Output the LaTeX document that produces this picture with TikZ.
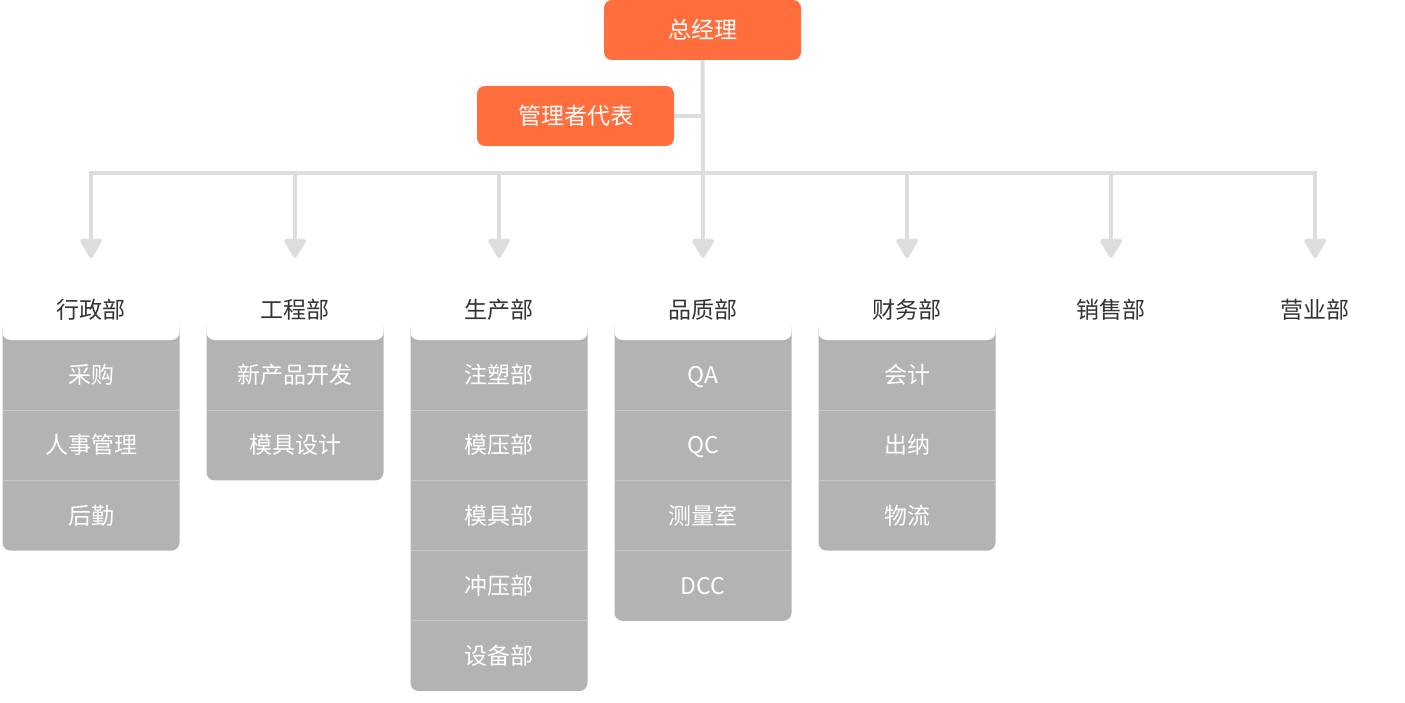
\documentclass[tikz,border=0pt]{standalone}
\usepackage{fontspec}
\setmainfont{Noto Sans CJK SC}
\usetikzlibrary{arrows.meta}
\definecolor{orng}{HTML}{FF6E3C}
\definecolor{lgray}{HTML}{DDDDDD}
\definecolor{gbox}{HTML}{B3B3B3}
\definecolor{sepc}{HTML}{C8C8C8}
\definecolor{dtext}{HTML}{333333}
\begin{document}
\begin{tikzpicture}[x=1pt,y=-1pt,
  txt/.style={font=\fontsize{23}{27}\selectfont, text height=20pt, text depth=3pt},
  boss/.style={txt, fill=orng, rounded corners=8pt, minimum width=197pt, minimum height=60pt, inner sep=0pt, text=white},
  link/.style={draw=lgray, line width=4pt},
  arrowline/.style={link, -{Triangle[width=24pt,length=21pt,round]}},
  hdr/.style={txt, text=dtext, minimum width=177pt, minimum height=60pt, inner sep=0pt},
  item/.style={txt, text=white, minimum width=177pt, minimum height=70pt, inner sep=0pt},
  graybg/.style={fill=gbox, rounded corners=8pt},
  card/.style={fill=white, rounded corners=8pt},
  sepline/.style={draw=sepc, line width=0.8pt}
]
\useasboundingbox (0,0) rectangle (1405,703);

% top boxes
\node[boss] (gm) at (702.5,30) {总经理};
\node[boss] (rep) at (575.5,116) {管理者代表};

% junctions
\coordinate (jc) at (703,173);
\foreach \cx [count=\i] in {91,295,499,703,907,1111,1315}
  \coordinate (j\i) at (\cx,173);

% gray backgrounds and header cards
\fill[graybg] (2.5,320) rectangle (179.5,550.6);
\fill[graybg] (206.5,320) rectangle (383.5,480.4);
\fill[graybg] (410.5,320) rectangle (587.5,691);
\fill[graybg] (614.5,320) rectangle (791.5,620.8);
\fill[graybg] (818.5,320) rectangle (995.5,550.6);
\foreach \cx in {91,295,499,703,907}
  \fill[card] (\cx-88.5,265) rectangle (\cx+88.5,340);

% separators
\foreach \cx/\n in {91/2,295/1,499/4,703/3,907/2}
  \foreach \k in {1,...,\n}
    \draw[sepline] (\cx-88.5,340+70.2*\k) -- (\cx+88.5,340+70.2*\k);

% headers
\node[hdr] (h1) at (91,310) {行政部};
\node[hdr] (h2) at (295,310) {工程部};
\node[hdr] (h3) at (499,310) {生产部};
\node[hdr] (h4) at (703,310) {品质部};
\node[hdr] (h5) at (907,310) {财务部};
\node[hdr] (h6) at (1111,310) {销售部};
\node[hdr] (h7) at (1315,310) {营业部};

% items
\foreach \t [count=\k] in {采购,人事管理,后勤}
  \node[item] (r1-\k) at (91,305+70.2*\k) {\t};
\foreach \t [count=\k] in {新产品开发,模具设计}
  \node[item] (r2-\k) at (295,305+70.2*\k) {\t};
\foreach \t [count=\k] in {注塑部,模压部,模具部,冲压部,设备部}
  \node[item] (r3-\k) at (499,305+70.2*\k) {\t};
\foreach \t [count=\k] in {QA,QC,测量室,DCC}
  \node[item] (r4-\k) at (703,305+70.2*\k) {\t};
\foreach \t [count=\k] in {会计,出纳,物流}
  \node[item] (r5-\k) at (907,305+70.2*\k) {\t};

% connectors
\draw[link] (gm.south) -- (jc);
\draw[link] (rep.east) -- (rep.east -| gm.south);
\draw[link, line cap=rect] (j1) -- (j7);
\foreach \i in {1,...,7}
  \draw[arrowline] (j\i) -- ([yshift=22pt]h\i.north);
\end{tikzpicture}
\end{document}
